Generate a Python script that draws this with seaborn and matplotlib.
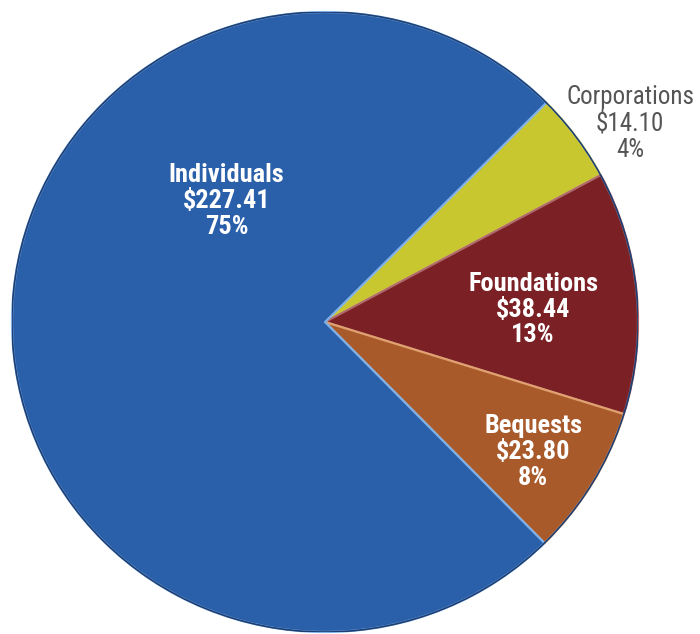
import matplotlib
matplotlib.use("Agg")
import matplotlib.pyplot as plt
import seaborn as sns
from matplotlib import font_manager

# Contributions by source (billions of dollars)
sources = ["Corporations", "Foundations", "Bequests", "Individuals"]
amounts = [14.10, 38.44, 23.80, 227.41]
amount_labels = ["$14.10", "$38.44", "$23.80", "$227.41"]
pct_labels = ["4%", "13%", "8%", "75%"]

sns.set_theme(style="white")
names = {f.name for f in font_manager.fontManager.ttflist}
family = [f for f in ["Roboto Condensed", "Liberation Sans Narrow", "DejaVu Sans Condensed",
                      "Roboto", "DejaVu Sans"] if f in names]
plt.rcParams["font.family"] = family

slice_colors = sns.color_palette(["#c9c72f", "#7b2125", "#a95a2b", "#2a5fa9"])
edge_colors = ["#e8e67a", "#b06a6c", "#e0a070", "#7fb0e8"]

fig = plt.figure(figsize=(7.0, 6.34), dpi=100)
ax = fig.add_axes([12 / 700, 2 / 634, 626 / 700, 620 / 634])

wedges, _ = ax.pie(amounts, colors=slice_colors, startangle=45, counterclock=False,
                   radius=1.0, center=(0, 0), frame=False)
for w, ec in zip(wedges, edge_colors):
    w.set_edgecolor(ec)
    w.set_linewidth(1.6)
    w.set_joinstyle("round")
# dark rim around the whole pie
ax.add_patch(plt.Circle((0, 0), 1.0, fill=False, edgecolor="#1d3f73", linewidth=1.2, zorder=5))

ax.set_xlim(-1.0, 1.0)
ax.set_ylim(-1.0, 1.0)
ax.set_aspect("auto")
ax.axis("off")

label_pos = [(0.975, 0.64), (0.665, 0.04), (0.665, -0.42), (-0.315, 0.39)]
text_colors = ["#555555", "white", "white", "white"]
for name, amt, pct, (x, y), c in zip(sources, amount_labels, pct_labels, label_pos, text_colors):
    outside = c != "white"
    ax.text(x, y, f"{name}\n{amt}\n{pct}", ha="center", va="center", color=c,
            fontsize=18 if outside else 19, fontweight="normal" if outside else "bold",
            linespacing=1.1, zorder=6)

fig.savefig("out.png", dpi=100, facecolor="white")
